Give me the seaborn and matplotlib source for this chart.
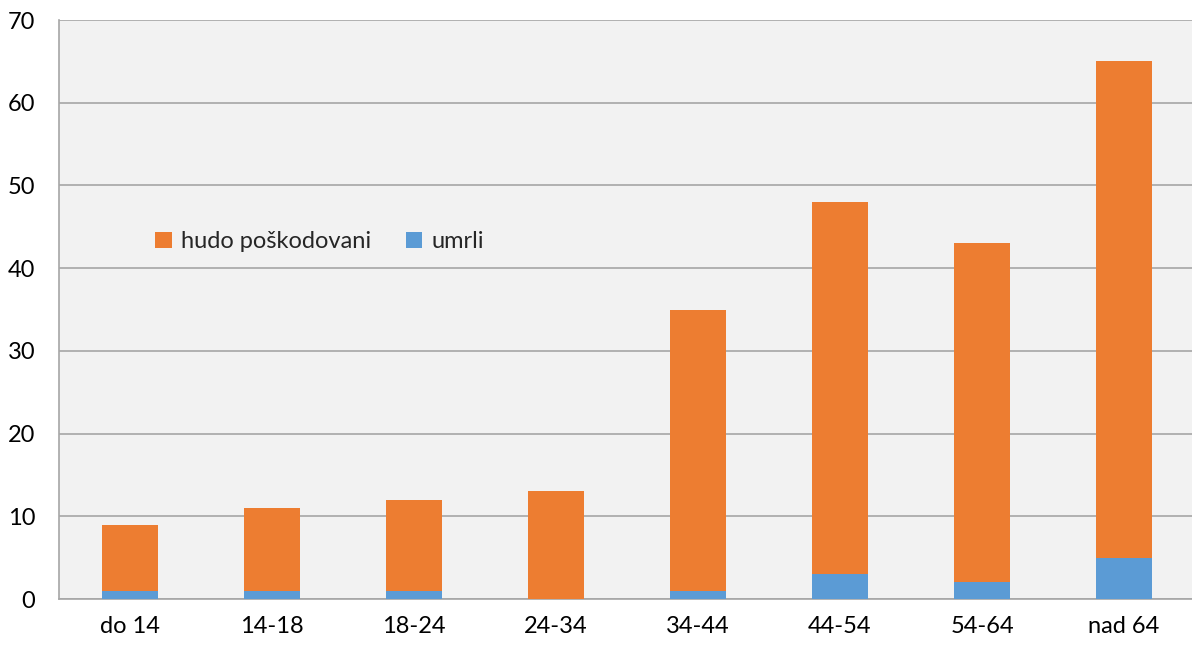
import matplotlib
matplotlib.use("Agg")
import matplotlib.pyplot as plt
import seaborn as sns
import pandas as pd
import numpy as np

categories = ["do 14", "14-18", "18-24", "24-34", "34-44", "44-54", "54-64", "nad 64"]
hudo_poskodovani = [8, 10, 11, 13, 34, 45, 41, 60]
umrli = [1, 1, 1, 0, 1, 3, 2, 5]
y_ticks = [0, 10, 20, 30, 40, 50, 60, 70]

sns.set_style("white")
plt.rcParams['font.family'] = ['Lato', 'DejaVu Sans']

df = pd.DataFrame({
    "kategorija": categories,
    "hudo": hudo_poskodovani,
    "umrli": umrli,
})
df["skupaj"] = df["hudo"] + df["umrli"]

W, H = 1192, 646
fig = plt.figure(figsize=(W / 100, H / 100), dpi=100)
ax = fig.add_axes([59 / W, (H - 599) / H, 1136 / W, 579 / H])
ax.set_facecolor("#F2F2F2")

orange = "#ED7D31"
blue = "#5B9BD5"
sns.barplot(data=df, x="kategorija", y="skupaj", color=orange, width=0.4,
            saturation=1, ax=ax, label="hudo poškodovani", zorder=3, linewidth=0)
sns.barplot(data=df, x="kategorija", y="umrli", color=blue, width=0.4,
            saturation=1, ax=ax, label="umrli", zorder=4, linewidth=0)

ax.set_xlim(-0.5, len(categories) - 0.5)
ax.set_ylim(0, 70)
ax.set_yticks(y_ticks)
ax.set_xlabel("")
ax.set_ylabel("")

gridc = "#A6A6A6"
ax.yaxis.grid(True, color=gridc, linewidth=1.2, zorder=0)
ax.set_axisbelow(True)
for s in ["top", "right"]:
    ax.spines[s].set_visible(False)
for s in ["left", "bottom"]:
    ax.spines[s].set_color(gridc)
    ax.spines[s].set_linewidth(1.2)

ax.tick_params(axis="y", length=11, width=1.2, color=gridc, labelsize=17, pad=6, direction="out")
ax.tick_params(axis="x", which="major", length=0, labelsize=17, pad=12)
ax.set_xticks(np.arange(-0.5, len(categories) - 0.4, 1), minor=True)
ax.tick_params(axis="x", which="minor", length=11, width=1.2, color=gridc, direction="out")

for lbl in ax.get_xticklabels() + ax.get_yticklabels():
    lbl.set_color("#000000")

ax.legend(loc="upper left", bbox_to_anchor=(0.066, 0.672), ncol=2, frameon=False,
          fontsize=17, handlelength=0.7, handleheight=0.7, handletextpad=0.4,
          columnspacing=1.45)

fig.savefig("out.png", dpi=100, facecolor="white")
